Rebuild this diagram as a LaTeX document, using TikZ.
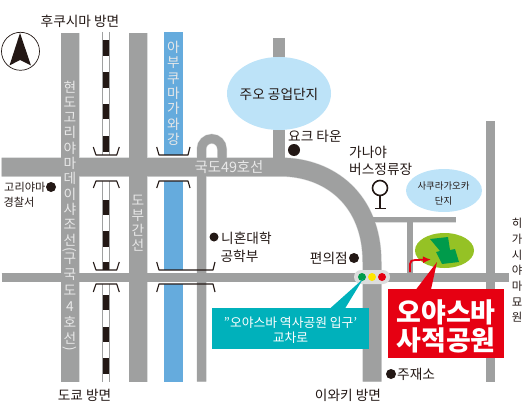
\documentclass[tikz,border=0pt]{standalone}
\usepackage{fontspec}
\usepackage{graphicx}
\usetikzlibrary{shapes.geometric,arrows.meta}
\setmainfont{Noto Sans CJK KR}
\definecolor{roadc}{HTML}{9FA0A0}
\definecolor{roade}{HTML}{DCDDDD}
\definecolor{inkc}{HTML}{231815}
\definecolor{riverc}{HTML}{65ABDD}
\definecolor{skyc}{HTML}{BDE3F8}
\definecolor{tealc}{HTML}{00B1BB}
\definecolor{redc}{HTML}{E60012}
\definecolor{lawn}{HTML}{95C225}
\definecolor{parkc}{HTML}{009B4B}
\definecolor{lighttx}{HTML}{E8E8E8}
\definecolor{yellowc}{HTML}{FFE600}
\newcommand{\fs}[2]{\fontsize{#1}{#2}\selectfont\lineskiplimit=-30pt\relax}
\newcommand{\allroads}[2]{%
  \path[draw=#1,line width=18pt+#2] (70,33) -- (70,381.5);
  \path[draw=#1,line width=18pt+#2] (138,33) -- (138,381.5);
  \path[draw=#1,line width=18.5pt+#2] (1.5,167) -- (280,167) .. controls (330,167) and (372,200) .. (372,262) -- (372,381.5);
  \path[draw=#1,line width=11.5pt+#2] (279,38) -- (279,165);
  \path[draw=#1,line width=9pt+#2] (201.5,381.5) -- (201.5,149) arc[start angle=180,end angle=360,radius=10.25] -- (222,165);
  \path[draw=#1,line width=8.5pt+#2] (1.5,277.5) -- (509,277.5);
  \path[draw=#1,line width=8.5pt+#2] (490.5,121) -- (490.5,381.5);
  \path[draw=#1,line width=5.5pt+#2] (410,219.5) -- (410,275);
  \path[draw=#1,line width=5pt+#2] (372,219.5) -- (456,219.5);
}
\tikzset{
  lbl/.style={inner sep=0pt,text=inkc,font=\fs{13.7}{17}},
  small/.style={inner sep=0pt,text=inkc,font=\fs{9.4}{15}},
  roadtx/.style={inner sep=0pt,text=lighttx,align=center,font=\fs{13.7}{15.3}},
  spot/.style={circle,fill=inkc,inner sep=0pt,minimum size=#1},
  bridge/.style={draw=inkc,line width=1.1pt,line join=round},
  rail/.style={fill=inkc},
}
\begin{document}
\begin{tikzpicture}[x=1pt,y=-1pt]
\useasboundingbox (0,0) rectangle (524,409);
% railway
\fill[white] (102,32) rectangle (110,382);
\draw[roadc,line width=1pt] (102.5,32) -- (102.5,382) (109.5,32) -- (109.5,382);
\foreach \a/\b in {40/56,72/88,104/119,136/152,200/215,231/247,262/270,295/310,327/342,358/374}
  \fill[rail] (103,\a) rectangle (109,\b);
% river
\fill[riverc] (164,32) rectangle (183,382);
% gaps left under the bridges
\fill[white] (100,155) rectangle (112,181) (160,155) rectangle (187,181);
\fill[white] (100,270) rectangle (112,284) (160,270) rectangle (187,284);
% roads
\allroads{roade}{1pt}
\allroads{roadc}{0pt}
% bridges
\draw[bridge] (93.3,147) -- (96,155) -- (116.7,155) -- (119.3,147);
\draw[bridge] (93.3,188) -- (96,181) -- (116.7,181) -- (119.3,188);
\draw[bridge] (93.3,262) -- (96,270) -- (116.7,270) -- (119.3,262);
\draw[bridge] (93.3,292) -- (96,284) -- (116.7,284) -- (119.3,292);
\draw[bridge] (156.7,147) -- (159,155) -- (188,155) -- (190,147);
\draw[bridge] (156.7,188) -- (159,181) -- (188,181) -- (190,188);
\draw[bridge] (156.7,262) -- (159,270) -- (213,270) -- (215,262);
\draw[bridge] (156.7,292) -- (159,284) -- (213,284) -- (215,292);
% compass
\draw[inkc,line width=0.7pt,fill=white] (20.5,51.3) circle[radius=19];
\fill[inkc] (20,33) -- (31,65.5) -- (20,60) -- (9.5,65.5) -- cycle;
% areas
\node[ellipse,fill=skyc,minimum width=104pt,minimum height=73pt,inner sep=0pt] (ctr) at (279,93.5) {};
\node[ellipse,fill=skyc,minimum width=76pt,minimum height=43pt,inner sep=0pt] (sak) at (444,190.5) {};
\node[lbl] at (279,94) {주오 공업단지};
\node[small,align=center] at (443.5,193.5) {사쿠라가오카\\단지};
% bus stop
\node[circle,draw=inkc,line width=1.6pt,fill=white,minimum size=15pt,inner sep=0pt] (bus) at (380,188) {};
\coordinate (busb) at (380,208);
\draw[inkc,line width=1.6pt] (bus.south) -- (busb);
\draw[inkc,line width=1.6pt] (375,208.5) -- (386,208.5);
% park
\node[ellipse,fill=lawn,minimum width=59pt,minimum height=35pt,inner sep=0pt] (park) at (444.5,250.5) {};
\fill[parkc] (430,239) -- (448,237) -- (450,250) -- (455,249) -- (459,262) -- (442,264) -- (436,252) -- (440,251) -- cycle;
\coordinate (turn) at (410,272);
\coordinate (pk) at (431,259.5);
\draw[redc,line width=1.8pt,-{Latex[length=8pt,width=7pt]}] (turn) -- (410,264) .. controls (410,261) and (412,260) .. (415,260) -- (pk);
% traffic light
\node[fill=roade,rounded corners=7pt,minimum width=36pt,minimum height=14pt,inner sep=0pt] (sig) at (372,277) {};
\fill[parkc] (362,277) circle[radius=4];
\fill[yellowc] (372,277) circle[radius=4];
\fill[redc] (382,277) circle[radius=4];
% callouts
\fill[tealc] (363,279) -- (345,308.5) -- (330,308.5) -- cycle;
\node[fill=tealc,minimum width=157pt,minimum height=41pt,inner sep=0pt] (tb) at (290.5,328.5) {};
\node[inner sep=0pt,text=white,align=center,font=\fs{12.8}{15.5}] at (290.5,330) {"오야스바 역사공원 입구'\\교차로};
\fill[redc] (437,262) -- (431,289.5) -- (416,289.5) -- cycle;
\node[fill=redc,minimum width=116pt,minimum height=69pt,inner sep=0pt] (rb) at (446,323.5) {};
\node[inner sep=0pt,text=white,align=center,font=\fs{27}{28}\bfseries] at (446,326) {오야스바\\사적공원};
% labels
\node[lbl] at (80,21.5) {후쿠시마 방면};
\node[lbl] at (84.5,395) {도쿄 방면};
\node[lbl] at (348,395) {이와키 방면};
\node[lbl,anchor=west] at (288,136) {요크 타운};
\node[spot=12pt] (d1) at (294,150) {};
\node[lbl,anchor=north west,align=left] at (349,146) {가나야\\버스정류장};
\node[lbl,anchor=west,font=\fs{11.2}{15}] at (4,187) {고리야마};
\node[lbl,font=\fs{11.2}{15}] at (19,202) {경찰서};
\node[spot=10pt] (d2) at (51,187) {};
\node[spot=9pt] (d3) at (214,237) {};
\node[lbl,anchor=west] at (221,238) {니혼대학};
\node[lbl] at (239.5,256) {공학부};
\node[lbl,anchor=east] at (348,258) {편의점};
\node[spot=10pt] (d4) at (354,258) {};
\node[spot=10pt] (d5) at (391,374) {};
\node[lbl,anchor=west] at (397,374) {주재소};
\node[text=inkc,inner sep=0pt,align=center,font=\fs{11.4}{15.7},anchor=north] at (517,218) {히\\가\\시\\야\\마\\묘\\원};
% road texts
\node[roadtx,anchor=north] at (70,80.5) {현\\도\\고\\리\\야\\마\\데\\이\\샤\\조\\선};
\node[roadtx] at (70,250) {\rotatebox{-90}{(}};
\node[roadtx,anchor=north,font=\fs{13.7}{16}] at (70,252.5) {구\\국\\도\\4\\호\\선};
\node[roadtx] at (70,349) {\rotatebox{-90}{)}};
\node[roadtx,anchor=north] at (173.5,41) {아\\부\\쿠\\마\\가\\와\\강};
\node[roadtx,anchor=north] at (138,194.5) {도\\부\\간\\선};
\node[roadtx,font=\fs{14.4}{16}] at (229,167) {국도49호선};
\end{tikzpicture}
\end{document}
